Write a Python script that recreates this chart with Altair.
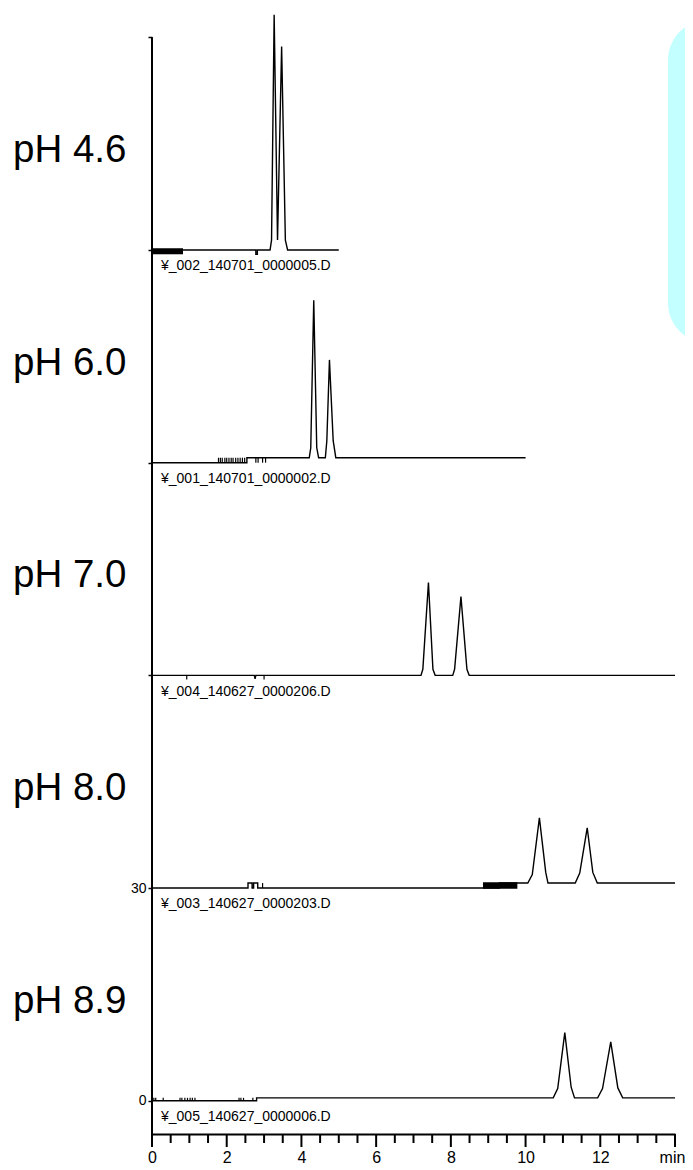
import altair as alt
import pandas as pd

# ---- data ----
OFFSETS = [120, 90, 60, 30, 0]
PH_LABELS = ["pH 4.6", "pH 6.0", "pH 7.0", "pH 8.0", "pH 8.9"]
FILE_LABELS = ["¥_002_140701_0000005.D", "¥_001_140701_0000002.D",
               "¥_004_140627_0000206.D", "¥_003_140627_0000203.D",
               "¥_005_140627_0000006.D"]

T46 = [0, 2.78, 2.78, 2.82, 2.82, 3.16, 3.20, 3.27, 3.36, 3.47, 3.57, 3.63, 5.0]
V46 = [0, 0, -0.6, -0.6, 0, 0, 1.4, 33.2, 1.4, 28.7, 1.4, 0, 0]

T60 = [0, 2.54, 2.54, 4.21, 4.25, 4.33, 4.41, 4.46, 4.64, 4.68, 4.75, 4.85, 4.92, 10.0]
V60 = [0, 0, 0.7, 0.7, 2.1, 22.9, 2.1, 0.7, 0.7, 3.1, 14.5, 3.1, 0.7, 0.7]

T70 = [0, 2.74, 2.76, 2.78, 7.20, 7.25, 7.40, 7.52, 7.58, 8.05, 8.10, 8.27, 8.43, 8.49, 14.0]
V70 = [0, 0, -0.5, 0, 0, 0.85, 13.1, 0.85, 0, 0, 0.85, 11.1, 0.85, 0, 0]

T80 = [0, 2.57, 2.57, 2.68, 2.68, 2.72, 2.72, 2.83, 2.83, 9.3, 9.3, 10.06, 10.18, 10.37,
       10.54, 10.60, 11.33, 11.45, 11.65, 11.80, 11.92, 14.0]
V80 = [0, 0, 0.7, 0.7, 0, 0, 0.7, 0.7, 0, 0, 0.7, 0.7, 1.9, 9.9, 2.2, 0.7, 0.7, 2.1, 8.5,
       2.2, 0.7, 0.7]

T89 = [0, 2.8, 2.8, 10.74, 10.86, 11.05, 11.22, 11.31, 11.93, 12.06, 12.28, 12.47, 12.6, 14.0]
V89 = [0, 0, 0.4, 0.4, 1.7, 9.6, 1.9, 0.4, 0.4, 1.7, 8.3, 1.8, 0.4, 0.4]

TRACES_T = [T46, T60, T70, T80, T89]
TRACES_V = [V46, V60, V70, V80, V89]

# dense integration-event bands: trace index, start, end, low, high
BAND_TRACE = [0, 3]
BAND_T1 = [0.0, 8.86]
BAND_T2 = [0.83, 9.78]
BAND_LO = [-0.6, -0.1]
BAND_HI = [0.25, 0.8]

# sparse event ticks: trace index, time, low, high
TICK_TRACE = [1] * 17 + [2, 2] + [3] + [4] * 14
TICK_T = [1.78, 1.83, 1.88, 1.95, 2.0, 2.06, 2.12, 2.17, 2.24, 2.3, 2.36, 2.42, 2.48,
          2.78, 2.84, 2.96, 3.04,
          0.93, 3.0,
          2.96,
          0.05, 0.1, 0.3, 0.75, 0.8, 0.88, 0.95, 1.02, 1.08, 1.15, 2.33, 2.38, 2.45, 2.7]
TICK_LO = [0] * 17 + [-0.6, -0.6] + [0] + [0] * 14
TICK_HI = [0.7] * 17 + [0, 0] + [0.7] + [0.4] * 14

# x axis: tick positions and whether each is a long (labelled) tick
X_TICKS = [0, 0.5, 1, 1.5, 2, 2.5, 3, 3.5, 4, 4.5, 5, 5.5, 6, 6.5, 7, 7.5, 8, 8.5, 9,
           9.5, 10, 10.5, 11, 11.5, 12, 12.5, 13, 13.5, 14]
X_TICK_MAJOR = [True, False, False, False, True, False, False, False, True, False,
                False, False, True, False, False, False, True, False, False, False,
                True, False, False, False, True, False, False, False, True]
X_LABEL_VALUES = [0, 2, 4, 6, 8, 10, 12, 13.92]
Y_TICKS = [0, 30, 60, 90, 120, 150]
X_DOMAIN = [0, 14]
Y_DOMAIN = [-4.7, 154]
Y_AXIS_SPAN = [-4.7, 150]

# ---- tables ----
PLOT_H = 1125
PX_PER_UNIT = PLOT_H / (Y_DOMAIN[1] - Y_DOMAIN[0])
MAJOR_LEN = 13 / PX_PER_UNIT
MINOR_LEN = 9 / PX_PER_UNIT

rows = []
for k, (ts, vs) in enumerate(zip(TRACES_T, TRACES_V)):
    for i, (t, v) in enumerate(zip(ts, vs)):
        rows.append({"trace": k, "i": i, "t": t, "y": OFFSETS[k] + v})
lines_df = pd.DataFrame(rows)

bands_df = pd.DataFrame({
    "t1": BAND_T1, "t2": BAND_T2,
    "y1": [OFFSETS[k] + lo for k, lo in zip(BAND_TRACE, BAND_LO)],
    "y2": [OFFSETS[k] + hi for k, hi in zip(BAND_TRACE, BAND_HI)],
})
ticks_df = pd.DataFrame({
    "t": TICK_T,
    "y1": [OFFSETS[k] + lo for k, lo in zip(TICK_TRACE, TICK_LO)],
    "y2": [OFFSETS[k] + hi for k, hi in zip(TICK_TRACE, TICK_HI)],
})
xticks_df = pd.DataFrame({
    "t": X_TICKS,
    "y1": [Y_DOMAIN[0]] * len(X_TICKS),
    "y2": [Y_DOMAIN[0] - (MAJOR_LEN if m else MINOR_LEN) for m in X_TICK_MAJOR],
})
ph_df = pd.DataFrame({"label": PH_LABELS, "y": [o + 12.4 for o in OFFSETS]})
file_df = pd.DataFrame({"label": FILE_LABELS, "y": [o - 2.3 for o in OFFSETS]})
axis_df = pd.DataFrame({"x": [0], "y1": [Y_AXIS_SPAN[0]], "y2": [Y_AXIS_SPAN[1]]})
box_df = pd.DataFrame({"a": [0]})

FONT = "Liberation Sans"
xscale = alt.Scale(domain=X_DOMAIN, nice=False, zero=False)
yscale = alt.Scale(domain=Y_DOMAIN, nice=False, zero=False)

xaxis = alt.Axis(
    values=X_LABEL_VALUES, title=None, grid=False, ticks=False,
    labelExpr="datum.value > 13.9 ? 'min' : datum.label",
    domainColor="black", domainWidth=2,
    labelFont=FONT, labelColor="black", labelPadding=15, labelFontSize=16,
    labelFlush=False, labelOverlap=False,
)
yaxis = alt.Axis(
    values=Y_TICKS, title=None, grid=False, domain=False,
    labelExpr="datum.value <= 30 ? datum.label : ''",
    tickSize=4, tickWidth=1.5, tickColor="black",
    labelFont=FONT, labelFontSize=14, labelColor="black", labelPadding=2,
    labelOverlap=False,
)

box = alt.Chart(box_df).mark_rect(color="#C4FFFF", cornerRadius=40).encode(
    x=alt.value(516), x2=alt.value(620), y=alt.value(11), y2=alt.value(334)
)

yline = alt.Chart(axis_df).mark_rule(color="black", strokeWidth=2).encode(
    x=alt.X("x:Q", scale=xscale, axis=xaxis),
    y=alt.Y("y1:Q", scale=yscale, axis=yaxis),
    y2="y2:Q",
)

xtickmarks = alt.Chart(xticks_df).mark_rule(color="black", strokeWidth=2).encode(
    x="t:Q", y="y1:Q", y2="y2:Q"
)

lines = alt.Chart(lines_df).mark_line(color="black", strokeWidth=1.4).encode(
    x=alt.X("t:Q", scale=xscale),
    y=alt.Y("y:Q", scale=yscale),
    detail="trace:N",
    order="i:Q",
)

bands = alt.Chart(bands_df).mark_rect(color="black").encode(
    x="t1:Q", x2="t2:Q", y="y1:Q", y2="y2:Q"
)

evticks = alt.Chart(ticks_df).mark_rule(color="black", strokeWidth=1.2).encode(
    x="t:Q", y="y1:Q", y2="y2:Q"
)

phtext = alt.Chart(ph_df).mark_text(
    font=FONT, fontSize=38.5, align="left", baseline="alphabetic", color="black"
).encode(x=alt.value(-139), y="y:Q", text="label:N")

filetext = alt.Chart(file_df).mark_text(
    font=FONT, fontSize=14, align="left", baseline="middle", color="black"
).encode(x=alt.value(9), y="y:Q", text="label:N")

chart = alt.layer(box, yline, xtickmarks, lines, bands, evticks, phtext, filetext).properties(
    width=523, height=PLOT_H,
    autosize=alt.AutoSizeParams(type="none"),
    padding={"left": 144, "top": 1, "right": 10, "bottom": 34},
).configure_view(stroke=None)

chart.save("out.html", embed_options={"renderer": "svg", "actions": False})
